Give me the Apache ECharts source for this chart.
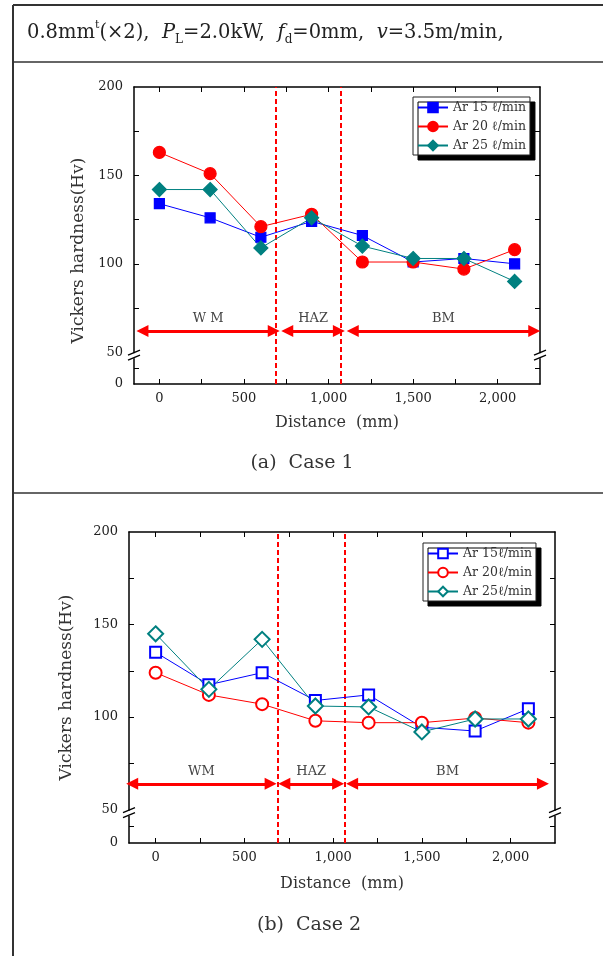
<!DOCTYPE html>
<html lang="en">
<head>
<meta charset="UTF-8">
<script src="https://cdn.jsdelivr.net/npm/echarts@6.0.0/dist/echarts.min.js"></script>
<title>Vickers hardness</title>
<style>
  body { margin: 0; background: #fff; }
  #main { width: 603px; height: 956px; }
</style>
</head>
<body>
<div id="main"></div>
<script>
  // measuring positions (mm) and hardness values (Hv)
  var distance = [0, 300, 600, 900, 1200, 1500, 1800, 2100];
  var xLabels = [0, 500, 1000, 1500, 2000];
  var xTicks = [0, 250, 500, 750, 1000, 1250, 1500, 1750, 2000];
  // broken y axis: the "0" label sits at 32 on the drawn scale
  var yZero = 32;
  var yLabels = [32, 50, 100, 150, 200];
  var yTicks = [41, 75, 100, 125, 150, 175];

  var case1Ar15 = [134, 126, 115, 124, 116, 101, 103, 100];
  var case1Ar20 = [163, 151, 121, 128, 101, 101, 97, 108];
  var case1Ar25 = [142, 142, 109, 126, 110, 103, 103, 90];

  var case2Ar15 = [135, 117.5, 124, 109, 112, 94.5, 92.5, 104.5];
  var case2Ar20 = [124, 112, 107, 98, 97, 97, 99.5, 97];
  var case2Ar25 = [145, 115, 142, 106, 105.5, 92, 99, 99];

  var names1 = ['Ar 15 ℓ/min', 'Ar 20 ℓ/min', 'Ar 25 ℓ/min'];
  var names2 = ['Ar 15ℓ/min', 'Ar 20ℓ/min', 'Ar 25ℓ/min'];

  // zone boundaries and zone arrows
  var bounds1 = [690, 1070];
  var bounds2 = [686, 1068];
  var zones1 = ['W M', 'HAZ', 'BM'];
  var zones2 = ['WM', 'HAZ', 'BM'];
  var zoneEnds1 = [[-100, 676], [756, 1061], [1143, 2216]];
  var zoneEnds2 = [[-132, 648], [725, 1028], [1107, 2182]];
  var zoneLevel1 = 62;
  var zoneLevel2 = 64;

  var FONT = 'DejaVu Serif';
  var chart = echarts.init(document.getElementById('main'));

  function pts(vals) {
    return distance.map(function (d, i) { return [d, vals[i]]; });
  }

  function xAxes(gi, nameGap) {
    var base = {
      gridIndex: gi, type: 'value', min: -150, max: 2250,
      axisLine: { onZero: false, lineStyle: { color: '#000', width: 1.5 } },
      axisTick: { inside: true, length: 5, customValues: xTicks, lineStyle: { color: '#000' } },
      splitLine: { show: false }
    };
    return [
      Object.assign({}, base, {
        position: 'bottom',
        name: 'Distance  (mm)', nameLocation: 'middle', nameGap: nameGap,
        nameTextStyle: { fontFamily: FONT, fontSize: 16, color: '#333' },
        axisLabel: {
          customValues: xLabels, margin: 8, fontFamily: FONT, fontSize: 13, color: '#222',
          formatter: function (v) { return v.toLocaleString('en-US'); }
        }
      }),
      Object.assign({}, base, { position: 'top', axisLabel: { show: false } })
    ];
  }

  function yAxes(gi, nameGap, namePad) {
    var base = {
      gridIndex: gi, type: 'value', min: yZero, max: 200,
      axisLine: { onZero: false, lineStyle: { color: '#000', width: 1.5 } },
      axisTick: { inside: true, length: 5, customValues: yTicks, lineStyle: { color: '#000' } },
      splitLine: { show: false }
    };
    return [
      Object.assign({}, base, {
        position: 'left',
        name: 'Vickers hardness(Hv)', nameLocation: 'middle', nameGap: nameGap,
        nameTextStyle: { fontFamily: FONT, fontSize: 17, color: '#333', padding: namePad },
        axisLabel: {
          customValues: yLabels, margin: 11, fontFamily: FONT, fontSize: 13, color: '#222',
          formatter: function (v) { return v === yZero ? '0' : String(v); }
        }
      }),
      Object.assign({}, base, { position: 'right', axisLabel: { show: false } })
    ];
  }

  function line(name, vals, ai, symbol, size, color) {
    return {
      name: name, type: 'line', xAxisIndex: ai, yAxisIndex: ai,
      data: pts(vals), symbol: symbol, symbolSize: size,
      lineStyle: { color: color, width: 1 },
      itemStyle: { color: color, borderColor: color, borderWidth: 1.2 },
      z: 3
    };
  }

  function boundLines(bounds) {
    return {
      silent: true, symbol: 'none', z: 1,
      label: { show: false },
      lineStyle: { color: '#ff0000', width: 2, type: [5, 3] },
      data: bounds.map(function (v) { return { xAxis: v }; })
    };
  }

  function zoneArrows(ends, names, level) {
    return {
      silent: true, symbol: ['triangle', 'triangle'], symbolSize: 12, z: 2,
      lineStyle: { color: '#ff0000', width: 3, type: 'solid' },
      label: {
        show: true, position: 'insideMiddleTop', distance: 6, formatter: '{b}',
        fontFamily: FONT, fontSize: 13, color: '#444'
      },
      data: ends.map(function (e, i) {
        return [{ name: names[i], coord: [e[0], level] }, { coord: [e[1], level] }];
      })
    };
  }

  var s1 = line(names1[0], case1Ar15, 0, 'rect', 10, '#0000ff');
  var s2 = line(names1[1], case1Ar20, 0, 'circle', 12, '#ff0000');
  var s3 = line(names1[2], case1Ar25, 0, 'diamond', 14, '#008080');
  var s4 = line(names2[0], case2Ar15, 2, 'emptyRect', 11, '#0000ff');
  var s5 = line(names2[1], case2Ar20, 2, 'emptyCircle', 12, '#ff0000');
  var s6 = line(names2[2], case2Ar25, 2, 'emptyDiamond', 15, '#008080');
  s1.markLine = boundLines(bounds1);
  s2.markLine = zoneArrows(zoneEnds1, zones1, zoneLevel1);
  s4.markLine = boundLines(bounds2);
  s5.markLine = zoneArrows(zoneEnds2, zones2, zoneLevel2);

  function legend(names, left, top) {
    return {
      data: names, left: left, top: top, orient: 'vertical',
      itemWidth: 30, itemHeight: 12, itemGap: 6,
      padding: [4, 4, 3, 4],
      backgroundColor: '#fff', borderColor: '#222', borderWidth: 1,
      shadowColor: '#000', shadowBlur: 0, shadowOffsetX: 5, shadowOffsetY: 5,
      selectedMode: false,
      textStyle: { fontFamily: FONT, fontSize: 12.5, color: '#333' }
    };
  }

  var rich = {
    n: { fontFamily: FONT, fontSize: 19.5, fontWeight: 'normal', color: '#222', lineHeight: 26 },
    i: { fontFamily: FONT, fontSize: 19.5, fontWeight: 'normal', fontStyle: 'italic', color: '#222', lineHeight: 26 },
    sup: { fontFamily: FONT, fontSize: 11, fontWeight: 'normal', color: '#222', verticalAlign: 'top', lineHeight: 26, padding: [0, 0, 8, 0] },
    sub: { fontFamily: FONT, fontSize: 12, fontWeight: 'normal', color: '#222', verticalAlign: 'bottom', lineHeight: 26 }
  };

  var option = {
    animation: false,
    title: {
      left: 27, top: 20, padding: 0,
      text: '{n|0.8mm}{sup|t}{n|(×2),  }{i|P}{sub|L}{n|=2.0kW,  }{i|f}{sub|d}{n|=0mm,  }{i|v}{n|=3.5m/min,}',
      textStyle: { fontWeight: 'normal', rich: rich }
    },
    legend: [legend(names1, 413, 97), legend(names2, 423, 543)],
    grid: [
      { left: 134, top: 87, width: 406, height: 297 },
      { left: 129, top: 532, width: 426, height: 311 }
    ],
    xAxis: xAxes(0, 31).concat(xAxes(1, 33)),
    yAxis: yAxes(0, 45, [0, 30, 0, 0]).concat(yAxes(1, 54, 0)),
    series: [s1, s2, s3, s4, s5, s6]
  };
  chart.setOption(option);

  // frame, captions and axis break marks
  var graphics = [
    { type: 'line', shape: { x1: 13, y1: 5, x2: 603, y2: 5 }, style: { stroke: '#333', lineWidth: 2 } },
    { type: 'line', shape: { x1: 13, y1: 5, x2: 13, y2: 956 }, style: { stroke: '#333', lineWidth: 2 } },
    { type: 'line', shape: { x1: 13, y1: 62, x2: 603, y2: 62 }, style: { stroke: '#333', lineWidth: 1.5 } },
    { type: 'line', shape: { x1: 13, y1: 493, x2: 603, y2: 493 }, style: { stroke: '#333', lineWidth: 1.5 } },
    { type: 'text', x: 302, y: 463, style: { text: '(a)  Case 1', fontFamily: FONT, fontSize: 19, fill: '#333', align: 'center', verticalAlign: 'middle' } },
    { type: 'text', x: 309, y: 925, style: { text: '(b)  Case 2', fontFamily: FONT, fontSize: 19, fill: '#333', align: 'center', verticalAlign: 'middle' } }
  ];
  [0, 3].forEach(function (si) {
    [-150, 2250].forEach(function (xv) {
      var p = chart.convertToPixel({ seriesIndex: si }, [xv, 50]);
      var x = p[0], y = p[1] + 4;
      graphics.push(
        { type: 'rect', z: 100, shape: { x: x - 3, y: y - 3, width: 6, height: 5 }, style: { fill: '#fff' } },
        { type: 'line', z: 101, shape: { x1: x - 6, y1: y - 1, x2: x + 6, y2: y - 6 }, style: { stroke: '#000', lineWidth: 1.3 } },
        { type: 'line', z: 101, shape: { x1: x - 6, y1: y + 4, x2: x + 6, y2: y - 1 }, style: { stroke: '#000', lineWidth: 1.3 } }
      );
    });
  });
  chart.setOption({ graphic: graphics });
</script>
</body>
</html>
